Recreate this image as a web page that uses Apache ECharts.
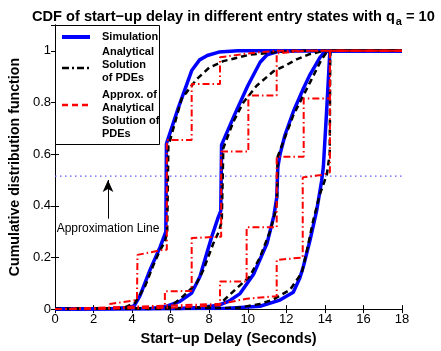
<!DOCTYPE html>
<html>
<head>
<meta charset="utf-8">
<script src="https://cdn.jsdelivr.net/npm/echarts@6/dist/echarts.min.js"></script>
<style>
  html, body { margin: 0; padding: 0; background: #fff; }
  #chart { width: 441px; height: 351px; }
</style>
</head>
<body>
<div id="chart"></div>
<script>
// Start-up delay CDFs for four entry states: simulation, analytical PDE solution,
// and the step approximation of the analytical solution. Points are [delay (s), CDF].
const sim1 = [[0,0],[3,0.002],[3.8,0.006],[4.1,0.012],[4.4,0.05],[4.93,0.152],[5.45,0.24],[5.65,0.28],[5.75,0.3],[5.78,0.64],[6.4,0.78],[7.1,0.925],[7.5,0.965],[7.9,0.982],[8.5,0.995],[9.5,1],[18,1]];
const ana1 = [[0,0],[3.5,0.003],[4.15,0.024],[4.67,0.088],[5.1,0.17],[5.45,0.228],[5.7,0.26],[5.82,0.3],[5.88,0.63],[6.57,0.815],[7.35,0.89],[8,0.935],[8.73,0.96],[10.1,0.985],[11.5,0.995],[12.5,1],[18,1]];
const apx1 = [[0,0],[2.8,0.002],[2.85,0.02],[4.25,0.035],[4.28,0.21],[5.62,0.23],[5.8,0.23],[5.8,0.655],[7.09,0.655],[7.09,0.872],[8.56,0.872],[8.56,0.975],[10,0.99],[11.5,1],[18,1]];

const sim2 = [[0,0],[5,0.002],[5.8,0.011],[6.48,0.03],[7.09,0.062],[7.52,0.126],[7.87,0.215],[8.13,0.28],[8.47,0.356],[8.6,0.38],[8.64,0.636],[9.3,0.75],[10.0,0.865],[10.64,0.956],[11.0,0.985],[11.6,0.998],[12.5,1],[18,1]];
const ana2 = [[0,0],[5.5,0.002],[5.96,0.008],[6.65,0.05],[7.35,0.1],[7.7,0.152],[8.21,0.254],[8.5,0.3],[8.65,0.34],[8.73,0.623],[9.25,0.725],[9.77,0.8],[10.46,0.865],[11.32,0.92],[12.0,0.945],[12.53,0.967],[13.2,0.987],[13.9,0.999],[14.5,1],[18,1]];
const apx2 = [[0,0],[4.4,0.005],[5.7,0.012],[5.7,0.069],[7.09,0.07],[7.09,0.275],[8.5,0.28],[8.62,0.28],[8.62,0.61],[10.03,0.61],[10.03,0.827],[11.5,0.827],[11.5,0.99],[13,1],[18,1]];

const sim3 = [[0,0],[6.5,0.002],[7.5,0.006],[8.5,0.015],[9.0,0.03],[9.6,0.06],[10.3,0.135],[11.0,0.255],[11.35,0.36],[11.5,0.43],[11.56,0.55],[11.67,0.598],[11.93,0.674],[12.36,0.764],[12.88,0.853],[13.2,0.904],[13.74,0.974],[14.0,0.997],[14.3,1],[18,1]];
const ana3 = [[0,0],[7,0.003],[8.0,0.01],[8.56,0.02],[9.34,0.075],[10.1,0.126],[10.63,0.2],[11.15,0.3],[11.45,0.38],[11.52,0.42],[11.55,0.59],[12.36,0.75],[13.23,0.878],[13.83,0.967],[14.1,0.995],[14.3,1],[18,1]];
const apx3 = [[0,0],[5.9,0.005],[8.56,0.015],[8.56,0.107],[9.94,0.107],[9.94,0.317],[11.5,0.317],[11.5,0.59],[12.9,0.59],[12.9,0.815],[14.26,0.815],[14.26,1],[18,1]];

const sim4 = [[0,0],[9,0.003],[10.63,0.011],[11.67,0.035],[12.36,0.065],[12.7,0.12],[12.88,0.164],[13.23,0.267],[13.57,0.38],[13.83,0.496],[13.92,0.55],[14.1,0.78],[14.26,1],[18,1]];
const ana4 = [[0,0],[9.5,0.005],[10.63,0.02],[11.32,0.037],[12.19,0.075],[12.8,0.14],[13.05,0.22],[13.4,0.345],[13.74,0.445],[14.1,0.52],[14.25,0.6],[14.28,1],[18,1]];
const apx4 = [[0,0],[8.56,0.02],[9.94,0.04],[11.5,0.05],[11.5,0.19],[12.85,0.2],[12.85,0.51],[13.9,0.52],[14.26,0.53],[14.26,1],[18,1]];

// Horizontal approximation level and its annotation arrow
const approxLevel = [[0,0.515],[18,0.515]];
const arrowFrom = [2.75, 0.35];
const arrowTo = [2.75, 0.5];

const xTicks = { min: 0, max: 18, step: 2 };
const yTicks = { min: 0, max: 1.1, step: 0.2 };

const FONT = '"Liberation Sans", Arial, Helvetica, sans-serif';

function simSeries(data) {
  return { type: 'line', data, showSymbol: false, symbol: 'none', z: 2,
    lineStyle: { color: '#0000ff', width: 3.5 }, animation: false };
}
function anaSeries(data) {
  return { type: 'line', data, showSymbol: false, symbol: 'none', z: 3,
    lineStyle: { color: '#000000', width: 2.5, type: [6, 4] }, animation: false };
}
function apxSeries(data) {
  return { type: 'line', data, showSymbol: false, symbol: 'none', z: 4,
    lineStyle: { color: '#ff0000', width: 2, type: [7, 3, 1.5, 3] }, animation: false };
}

const tickCommon = {
  axisLine: { show: true, lineStyle: { color: '#000', width: 1 } },
  axisTick: { show: true, inside: true, length: 4, lineStyle: { color: '#000' } },
  splitLine: { show: false }
};

const chart = echarts.init(document.getElementById('chart'), null, { renderer: 'canvas' });

chart.setOption({
  backgroundColor: '#fff',
  animation: false,
  title: {
    text: '{t|CDF of start−up delay in different entry states with q}{s|a}{t| = 10}',
    left: 27,
    top: 2,
    textStyle: {
      rich: {
        t: { fontFamily: FONT, fontWeight: 'bold', fontSize: 14.6, color: '#000', lineHeight: 19 },
        s: { fontFamily: FONT, fontWeight: 'bold', fontSize: 11, color: '#000', lineHeight: 19, padding: [11, 0, 0, 1] }
      }
    }
  },
  grid: { left: 55, right: 39, top: 25, bottom: 38 },
  xAxis: [
    Object.assign({
      type: 'value', min: xTicks.min, max: xTicks.max, interval: xTicks.step, position: 'bottom',
      axisLabel: { color: '#000', fontSize: 13, fontFamily: FONT, margin: 4 },
      name: 'Start−up Delay (Seconds)', nameLocation: 'middle', nameGap: 18,
      nameTextStyle: { color: '#000', fontSize: 14.5, fontWeight: 'bold', fontFamily: FONT }
    }, tickCommon),
    Object.assign({
      type: 'value', min: xTicks.min, max: xTicks.max, interval: xTicks.step, position: 'top',
      axisLabel: { show: false }
    }, tickCommon)
  ],
  yAxis: [
    Object.assign({
      type: 'value', min: yTicks.min, max: yTicks.max, interval: yTicks.step, position: 'left',
      axisLabel: { color: '#000', fontSize: 13, fontFamily: FONT, margin: 4, showMaxLabel: false },
      name: 'Cumulative distribution function', nameLocation: 'middle', nameGap: 30,
      nameTextStyle: { color: '#000', fontSize: 14.2, fontWeight: 'bold', fontFamily: FONT }
    }, tickCommon),
    Object.assign({
      type: 'value', min: yTicks.min, max: yTicks.max, interval: yTicks.step, position: 'right',
      axisLabel: { show: false }
    }, tickCommon)
  ],
  series: [
    simSeries(sim1), simSeries(sim2), simSeries(sim3), simSeries(sim4),
    anaSeries(ana1), anaSeries(ana2), anaSeries(ana3), anaSeries(ana4),
    apxSeries(apx1), apxSeries(apx2), apxSeries(apx3), apxSeries(apx4),
    {
      type: 'line', data: approxLevel, showSymbol: false, symbol: 'none', z: 1,
      lineStyle: { color: '#5a5aff', width: 1.2, type: [1.5, 3.5] }, animation: false,
      markLine: {
        silent: true, animation: false,
        symbol: ['none', 'arrow'], symbolSize: [8, 12],
        lineStyle: { color: '#000', width: 1, type: 'solid' },
        label: {
          show: true, position: 'start', distance: 4,
          formatter: 'Approximation Line',
          color: '#000', fontSize: 12, fontFamily: FONT
        },
        data: [[{ coord: arrowFrom }, { coord: arrowTo }]]
      }
    }
  ],
  graphic: [
    { type: 'rect', left: 55, top: 25, z: 100,
      shape: { width: 104, height: 119 },
      style: { fill: '#fff', stroke: '#000', lineWidth: 1 } },
    { type: 'line', z: 101, shape: { x1: 62, y1: 37, x2: 90, y2: 37 },
      style: { stroke: '#0000ff', lineWidth: 4 } },
    { type: 'line', z: 101, shape: { x1: 62, y1: 68, x2: 90, y2: 68 },
      style: { stroke: '#000', lineWidth: 2.5, lineDash: [7, 3, 2, 3] } },
    { type: 'line', z: 101, shape: { x1: 62, y1: 105, x2: 90, y2: 105 },
      style: { stroke: '#ff0000', lineWidth: 2.5, lineDash: [6, 4] } },
    { type: 'text', z: 102, left: 102, top: 31,
      style: { text: 'Simulation', fill: '#000', font: 'bold 11px ' + FONT } },
    { type: 'text', z: 102, left: 102, top: 45,
      style: { text: 'Analytical\nSolution\nof PDEs', fill: '#000', font: 'bold 11px ' + FONT, lineHeight: 13 } },
    { type: 'text', z: 102, left: 102, top: 88,
      style: { text: 'Approx. of\nAnalytical\nSolution of\nPDEs', fill: '#000', font: 'bold 11px ' + FONT, lineHeight: 13.2 } }
  ]
});
</script>
</body>
</html>
